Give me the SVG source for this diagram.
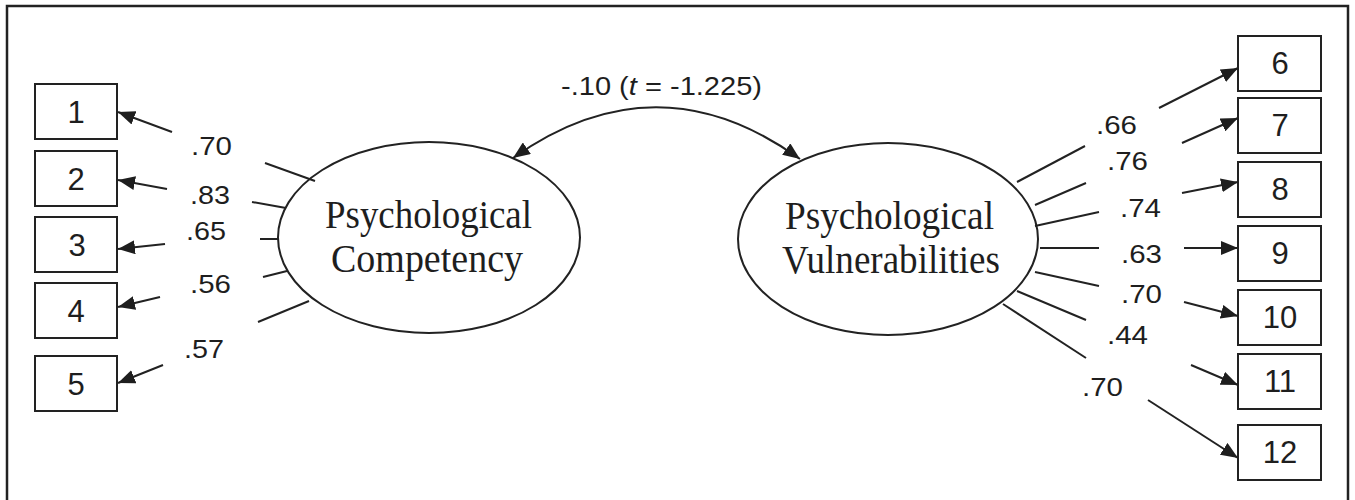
<svg xmlns="http://www.w3.org/2000/svg" width="1355" height="500" viewBox="0 0 1355 500">
<defs>
<marker id="ah" markerUnits="userSpaceOnUse" markerWidth="18" markerHeight="14" refX="17" refY="7" orient="auto-start-reverse">
<path d="M0,0 L17,7 L0,14 z" fill="#1e1e1e"/>
</marker>
<style>
.box{fill:#fff;stroke:#222;stroke-width:2}
.num{font-family:"Liberation Sans",Arial,sans-serif;font-size:31px;fill:#1e1e1e;text-anchor:middle}
.lab{font-family:"Liberation Sans",Arial,sans-serif;font-size:26px;fill:#1e1e1e}
.lat{fill:#fff;stroke:#222;stroke-width:2}
.lt{font-family:"Liberation Serif","Times New Roman",serif;font-size:39px;fill:#1e1e1e}
.ln{stroke:#222;stroke-width:2;fill:none}
.ar{stroke:#222;stroke-width:2;fill:none;marker-end:url(#ah)}
</style>
</defs>
<rect x="0" y="0" width="1355" height="500" fill="#fff"/>
<rect x="7" y="6" width="1341" height="510" fill="none" stroke="#222" stroke-width="2.5"/>

<g id="n1"><rect class="box" x="35" y="84" width="82" height="55"/><text class="num" x="76" y="123">1</text></g>
<g id="n2"><rect class="box" x="35" y="151" width="82" height="55"/><text class="num" x="76" y="190">2</text></g>
<g id="n3"><rect class="box" x="35" y="217" width="82" height="55"/><text class="num" x="77" y="256">3</text></g>
<g id="n4"><rect class="box" x="35" y="283" width="82" height="55"/><text class="num" x="76" y="322">4</text></g>
<g id="n5"><rect class="box" x="35" y="356" width="82" height="55"/><text class="num" x="76" y="395">5</text></g>

<g id="n6"><rect class="box" x="1238" y="36" width="83" height="55"/><text class="num" x="1280" y="74">6</text></g>
<g id="n7"><rect class="box" x="1238" y="98" width="83" height="55"/><text class="num" x="1280" y="136">7</text></g>
<g id="n8"><rect class="box" x="1238" y="162" width="83" height="55"/><text class="num" x="1280" y="200">8</text></g>
<g id="n9"><rect class="box" x="1238" y="226" width="83" height="55"/><text class="num" x="1280" y="264">9</text></g>
<g id="n10"><rect class="box" x="1238" y="290" width="83" height="55"/><text class="num" x="1280" y="328">10</text></g>
<g id="n11"><rect class="box" x="1238" y="354" width="83" height="55"/><text class="num" x="1280" y="392">11</text></g>
<g id="n12"><rect class="box" x="1238" y="425" width="83" height="55"/><text class="num" x="1280" y="463">12</text></g>

<g id="competency"><ellipse class="lat" cx="429" cy="237.5" rx="151" ry="95.5"/><text class="lt" x="325" y="228" textLength="207" lengthAdjust="spacingAndGlyphs">Psychological</text><text class="lt" x="331" y="272" textLength="192" lengthAdjust="spacingAndGlyphs">Competency</text></g>
<g id="vulnerabilities"><ellipse class="lat" cx="888" cy="239" rx="150" ry="96"/><text class="lt" x="785" y="229" textLength="209" lengthAdjust="spacingAndGlyphs">Psychological</text><text class="lt" x="782" y="273" textLength="218" lengthAdjust="spacingAndGlyphs">Vulnerabilities</text></g>

<g id="connectors">
<path class="ln" d="M513,158 Q657,56 800,159" marker-start="url(#ah)" marker-end="url(#ah)"/>
<line class="ln" x1="265" y1="163" x2="315" y2="181"/>
<line class="ln" x1="252" y1="202" x2="286" y2="208"/>
<line class="ln" x1="260" y1="239" x2="279" y2="239"/>
<line class="ln" x1="263" y1="277" x2="287" y2="271"/>
<line class="ln" x1="258" y1="322" x2="309" y2="301"/>
<line class="ar" x1="172" y1="132" x2="118" y2="112"/>
<line class="ar" x1="167" y1="189" x2="118" y2="180"/>
<line class="ar" x1="165" y1="244" x2="118" y2="249"/>
<line class="ar" x1="160" y1="297" x2="118" y2="307"/>
<line class="ar" x1="163" y1="365" x2="118" y2="383"/>
<line class="ln" x1="1017" y1="182" x2="1085" y2="146"/>
<line class="ln" x1="1035" y1="205" x2="1086" y2="183"/>
<line class="ln" x1="1035" y1="226" x2="1099" y2="212"/>
<line class="ln" x1="1040" y1="248" x2="1099" y2="248"/>
<line class="ln" x1="1035" y1="272" x2="1099" y2="286"/>
<line class="ln" x1="1017" y1="291" x2="1086" y2="320"/>
<line class="ln" x1="1003" y1="304" x2="1086" y2="358"/>
<line class="ar" x1="1159" y1="108" x2="1238" y2="68"/>
<line class="ar" x1="1182" y1="143" x2="1238" y2="118"/>
<line class="ar" x1="1182" y1="193" x2="1238" y2="182"/>
<line class="ar" x1="1184" y1="248" x2="1238" y2="248"/>
<line class="ar" x1="1184" y1="302" x2="1238" y2="316"/>
<line class="ar" x1="1191" y1="365" x2="1238" y2="385"/>
<line class="ar" x1="1148" y1="400" x2="1238" y2="458"/>
</g>

<g id="labels">
<text class="lab" x="561" y="95" textLength="201" lengthAdjust="spacingAndGlyphs">-.10 (<tspan font-style="italic">t</tspan> = -1.225)</text>
<text class="lab" x="191" y="155" textLength="41" lengthAdjust="spacingAndGlyphs">.70</text>
<text class="lab" x="190" y="204" textLength="40" lengthAdjust="spacingAndGlyphs">.83</text>
<text class="lab" x="186" y="240" textLength="40" lengthAdjust="spacingAndGlyphs">.65</text>
<text class="lab" x="190" y="293" textLength="41" lengthAdjust="spacingAndGlyphs">.56</text>
<text class="lab" x="184" y="358" textLength="40" lengthAdjust="spacingAndGlyphs">.57</text>
<text class="lab" x="1096" y="134" textLength="41" lengthAdjust="spacingAndGlyphs">.66</text>
<text class="lab" x="1107" y="170" textLength="41" lengthAdjust="spacingAndGlyphs">.76</text>
<text class="lab" x="1120" y="217" textLength="41" lengthAdjust="spacingAndGlyphs">.74</text>
<text class="lab" x="1121" y="263" textLength="41" lengthAdjust="spacingAndGlyphs">.63</text>
<text class="lab" x="1121" y="303" textLength="41" lengthAdjust="spacingAndGlyphs">.70</text>
<text class="lab" x="1107" y="344" textLength="41" lengthAdjust="spacingAndGlyphs">.44</text>
<text class="lab" x="1082" y="396" textLength="41" lengthAdjust="spacingAndGlyphs">.70</text>
</g>
</svg>
